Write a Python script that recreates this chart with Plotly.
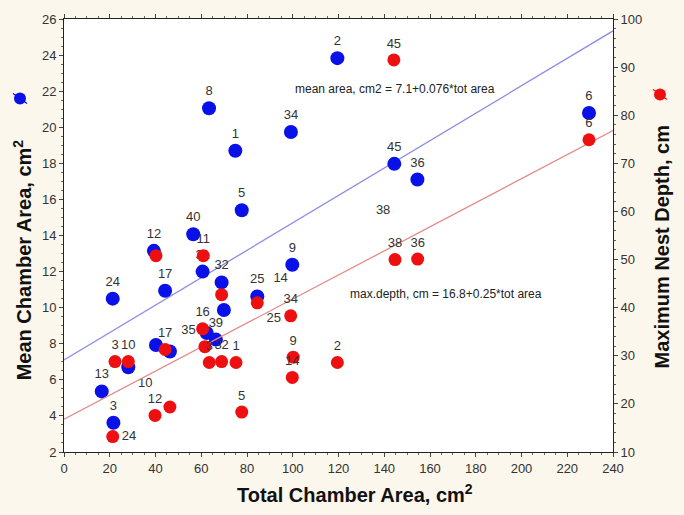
import plotly.graph_objects as go

# ---- data ----
blue_x = [21.3, 39.3, 56.5, 44.2, 60.6, 68.9, 69.9, 84.5, 66.4, 62.4, 40.2, 46.3,
          16.5, 21.6, 28.1, 99.8, 99.2, 119.5, 144.4, 154.5, 229.5, 63.4, 74.9, 77.7]
blue_y = [10.5, 13.15, 14.07, 10.94, 12.0, 11.4, 9.87, 10.62, 8.23, 8.6, 7.93, 7.57,
          5.36, 3.62, 6.7, 12.38, 19.74, 23.83, 17.97, 17.1, 20.79, 21.05, 18.7, 15.4]
blue_lbl = ["24", "12", "40", "17", "31", "32", "", "25", "39", "", "", "",
            "13", "3", "10", "9", "34", "2", "45", "36", "6", "8", "1", "5"]
blue_pos = ["top center"] * 14 + ["bottom right"] + ["top center"] * 9

red_x = [144.2, 229.5, 144.7, 154.6, 40.2, 60.9, 68.9, 84.5, 99.1, 60.6, 61.6, 63.5,
         68.9, 75.2, 44.2, 39.8, 46.3, 77.7, 22.3, 28.1, 21.3, 100.2, 99.8, 119.5]
red_y = [91.5, 74.9, 50.0, 50.1, 50.8, 50.8, 42.7, 41.0, 38.3, 35.6, 31.9, 28.6,
         28.8, 28.6, 31.3, 17.6, 19.35, 18.3, 28.8, 28.8, 13.2, 29.7, 25.5, 28.6]
red_lbl = ["45", "6", "38", "36", "", "11", "", "25", "34", "16", "35", "3",
           "32", "1", "17", "12", "", "5", "3", "10", "24", "9", "14", "2"]
red_pos = (["top center"] * 7 + ["bottom right"] + ["top center"] * 2 + ["top left"]
           + ["top center"] * 9 + ["middle right"] + ["top center"] * 3)

extra_lbl = ["38", "14"]
extra_x = [139.5, 94.7]
extra_y = [15.37, 11.58]

mean_fit = (7.1, 0.076)     # intercept, slope
depth_fit = (16.8, 0.25)
fit_x = [0, 240]

x_ticks = list(range(0, 241, 20))
yl_ticks = list(range(2, 27, 2))
yr_ticks = list(range(10, 101, 10))

BLUE = "#0a10e8"
RED = "#ee1010"
TXT = "#333333"
FONT = "Liberation Sans, Arial, sans-serif"

fig = go.Figure()
fig.add_trace(go.Scatter(x=fit_x, y=[mean_fit[0] + mean_fit[1] * v for v in fit_x],
                         mode="lines", line=dict(color="#8c8ce6", width=1.3),
                         hoverinfo="skip", showlegend=False))
fig.add_trace(go.Scatter(x=blue_x, y=blue_y, mode="markers+text", text=blue_lbl,
                         textposition=blue_pos, textfont=dict(size=13, color=TXT, family=FONT),
                         marker=dict(color=BLUE, size=14, line=dict(width=0)),
                         showlegend=False))
fig.add_trace(go.Scatter(x=extra_x, y=extra_y, mode="text", text=extra_lbl,
                         textfont=dict(size=13, color=TXT, family=FONT), showlegend=False))
fig.add_trace(go.Scatter(x=fit_x, y=[depth_fit[0] + depth_fit[1] * v for v in fit_x],
                         mode="lines", line=dict(color="#e48a8a", width=1.3),
                         yaxis="y2", hoverinfo="skip", showlegend=False))
fig.add_trace(go.Scatter(x=red_x, y=red_y, mode="markers+text", text=red_lbl,
                         textposition=red_pos, textfont=dict(size=13, color=TXT, family=FONT),
                         marker=dict(color=RED, size=13, line=dict(width=0)),
                         yaxis="y2", showlegend=False))

tickfont = dict(size=13, color=TXT, family=FONT)
fig.update_layout(
    width=684, height=515,
    margin=dict(l=64, r=71, t=16, b=63),
    paper_bgcolor="#fbf7ec", plot_bgcolor="white",
    font=dict(family=FONT),
    xaxis=dict(range=[0, 240], tickvals=x_ticks, showgrid=False, zeroline=False,
               showline=True, linecolor="#222", linewidth=1, mirror="ticks",
               ticks="outside", ticklen=4, tickcolor="#444", tickfont=tickfont,
               minor=dict(dtick=5, ticks="outside", ticklen=2, tickcolor="#666")),
    yaxis=dict(range=[2, 26], tickvals=yl_ticks, showgrid=False, zeroline=False,
               showline=True, linecolor="#222", linewidth=1, mirror=True,
               ticks="outside", ticklen=4, tickcolor="#444", tickfont=tickfont,
               minor=dict(dtick=0.5, ticks="outside", ticklen=2, tickcolor="#666")),
    yaxis2=dict(range=[10, 100], tickvals=yr_ticks, overlaying="y", side="right",
                showgrid=False, zeroline=False, showline=True, linecolor="#222",
                ticks="outside", ticklen=4, tickcolor="#444", tickfont=tickfont,
                minor=dict(dtick=2, ticks="outside", ticklen=2, tickcolor="#666")),
)

annots = [
    dict(x=144.7, y=22.14, xref="x", yref="y", text="mean area, cm2 = 7.1+0.076*tot area",
         showarrow=False, font=dict(size=12, color="#222", family=FONT)),
    dict(x=167, y=10.75, xref="x", yref="y", text="max.depth, cm = 16.8+0.25*tot area",
         showarrow=False, font=dict(size=12, color="#222", family=FONT)),
    dict(x=(22 - 64) / 549, y=(452 - 259) / 436, xref="paper", yref="paper", textangle=-90,
         text="<b>Mean Chamber Area, cm<sup>2</sup></b>", showarrow=False,
         font=dict(size=20, color="#111", family=FONT)),
    dict(x=(662 - 64) / 549, y=(452 - 246) / 436, xref="paper", yref="paper", textangle=-90,
         text="<b>Maximum Nest Depth, cm</b>", showarrow=False,
         font=dict(size=20, color="#111", family=FONT)),
    dict(x=(355 - 64) / 549, y=(452 - 494) / 436, xref="paper", yref="paper",
         text="<b>Total Chamber Area, cm<sup>2</sup></b>", showarrow=False,
         font=dict(size=20, color="#111", family=FONT)),
]
for a in annots:
    a["xanchor"] = "center"
    a["yanchor"] = "middle"
fig.update_layout(annotations=annots)

# legend icons
shapes = []
for px, py, col in [(20, 96, BLUE), (660, 92, RED)]:
    xp = (px - 64) / 549
    yp = (452 - py) / 436
    shapes.append(dict(type="line", xref="paper", yref="paper", xsizemode="pixel",
                       ysizemode="pixel", xanchor=xp, yanchor=yp, x0=-7, x1=7, y0=5, y1=-5,
                       line=dict(color=col, width=1.2)))
    shapes.append(dict(type="circle", xref="paper", yref="paper", xsizemode="pixel",
                       ysizemode="pixel", xanchor=xp, yanchor=yp, x0=-6, x1=6, y0=-6, y1=6,
                       fillcolor=col, line=dict(width=0)))
fig.update_layout(shapes=shapes)

fig.write_html("out.html", config={"displayModeBar": False},
               post_script="document.body.style.margin='0';")
